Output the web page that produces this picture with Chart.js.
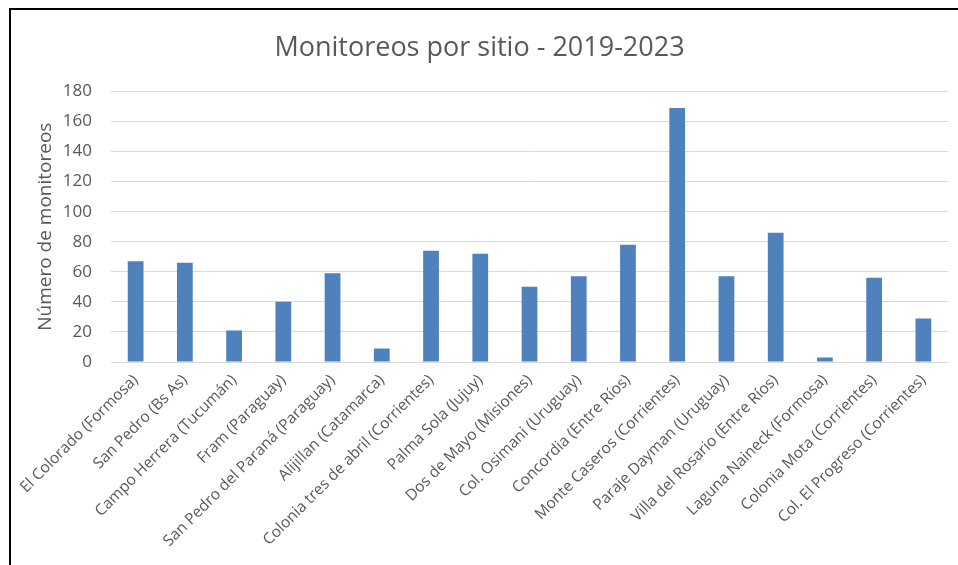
<!DOCTYPE html>
<html>
<head>
<meta charset="utf-8">
<script src="https://cdn.jsdelivr.net/npm/chart.js@4/dist/chart.umd.min.js"></script>
<style>
	body {margin: 0; background: #fff;}
	#wrap {
		position: absolute; left: 9px; top: 8px;
		width: 947px; height: 555px;
		border-top: 2px solid #000; border-left: 2px solid #000;
	}
</style>
</head>
<body>
<div id="wrap"><canvas id="sitioChart" width="947" height="555"></canvas></div>
<script>
// datos del grafico
var sitios = ['El Colorado (Formosa)', 'San Pedro (Bs As)', 'Campo Herrera (Tucumán)', 'Fram (Paraguay)',
	'San Pedro del Paraná (Paraguay)', 'Alijillan (Catamarca)', 'Colonia tres de abril (Corrientes)',
	'Palma Sola (Jujuy)', 'Dos de Mayo (Misiones)', 'Col. Osimani (Uruguay)', 'Concordia (Entre Ríos)',
	'Monte Caseros (Corrientes)', 'Paraje Dayman (Uruguay)', 'Villa del Rosario (Entre Ríos)',
	'Laguna Naineck (Formosa)', 'Colonia Mota (Corrientes)', 'Col. El Progreso (Corrientes)'];
var monitoreos = [67, 66, 21, 40, 59, 9, 74, 72, 50, 57, 78, 169, 57, 86, 3, 56, 29];
var yTicks = [0, 20, 40, 60, 80, 100, 120, 140, 160, 180];

var gris = '#595959';
var fuente = "'Open Sans', sans-serif";

new Chart('sitioChart', {
	type: 'bar',
	data: {
		labels: sitios,
		datasets: [{
			data: monitoreos,
			backgroundColor: '#4F81BD',
			barPercentage: 0.32,
			categoryPercentage: 1
		}]
	},
	options: {
		responsive: false,
		animation: false,
		layout: {padding: {left: 0, right: 10, top: 0, bottom: 0}},
		plugins: {
			legend: {display: false},
			tooltip: {enabled: false},
			title: {
				display: true,
				text: 'Monitoreos por sitio - 2019-2023',
				color: gris,
				font: {family: fuente, size: 27, weight: 'normal'},
				padding: {top: 22, bottom: 27}
			}
		},
		scales: {
			x: {
				grid: {display: false, drawTicks: false},
				border: {color: '#d9d9d9'},
				ticks: {
					color: gris,
					font: {family: fuente, size: 15.5},
					minRotation: 45,
					maxRotation: 45,
					autoSkip: false,
					padding: 9
				},
				afterFit: function(s) { s.height = 203; }
			},
			y: {
				min: 0,
				max: yTicks[yTicks.length - 1],
				afterBuildTicks: function(s) { s.ticks = yTicks.map(function(v) { return {value: v}; }); },
				grid: {color: '#d9d9d9', drawTicks: false},
				border: {display: false},
				ticks: {
					color: gris,
					font: {family: fuente, size: 17},
					padding: 19
				},
				title: {
					display: true,
					text: 'Número de monitoreos',
					color: gris,
					font: {family: fuente, size: 19},
					padding: {top: 23, bottom: 0}
				},
				afterFit: function(s) { s.width = 100; }
			}
		}
	}
});
</script>
</body>
</html>
